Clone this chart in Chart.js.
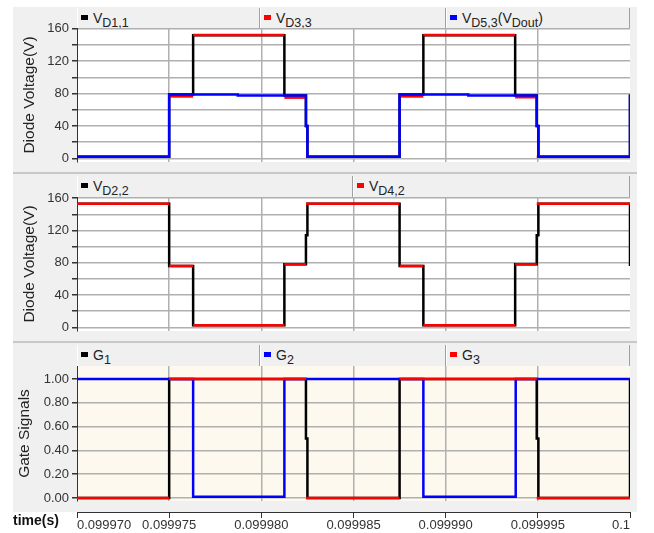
<!DOCTYPE html>
<html>
<head>
<meta charset="utf-8">
<script src="https://cdn.jsdelivr.net/npm/chart.js@4.4.0/dist/chart.umd.min.js"></script>
<style>
body{margin:0;background:#fff;overflow:hidden;width:654px;height:533px;position:relative;font-family:"Liberation Sans",Arial,sans-serif}
#bg{position:absolute;left:13px;top:7px;width:624px;height:505px;background:#f0f0f0}
.sep{position:absolute;left:13px;width:624px;height:2px;background:#c8c8c8}
canvas{position:absolute;left:13px}
.hdr{position:absolute;left:77px;width:553px;display:flex;background:#f0f0f0}
.cell{box-sizing:border-box;height:100%;border-right:1px solid #a0a0a0;border-left:1px solid #fff;font-size:14px;color:#222;padding-left:3px;white-space:nowrap;overflow:hidden}
.sq{display:inline-block;width:7px;height:5px;margin-right:5px;vertical-align:3px}
sub{font-size:12.5px;vertical-align:-4px;line-height:0}
#tl{position:absolute;left:13px;top:512px;font-weight:bold;font-size:14px;color:#111}
</style>
</head>
<body>
<div id="bg"></div>
<div class="sep" style="top:172px"></div>
<div class="sep" style="top:341px"></div>
<canvas id="c1" width="624" height="166" style="top:7px"></canvas>
<canvas id="c2" width="624" height="169" style="top:173px"></canvas>
<canvas id="c3" width="624" height="170" style="top:342px"></canvas>
<canvas id="ax" width="624" height="43" style="top:490px"></canvas>

<div class="hdr" style="top:8px;height:20px;line-height:20px">
  <div class="cell" style="width:183px"><span class="sq" style="background:#000"></span>V<sub>D1,1</sub></div>
  <div class="cell" style="width:186px"><span class="sq" style="background:#f00"></span>V<sub>D3,3</sub></div>
  <div class="cell" style="width:184px"><span class="sq" style="background:#00f"></span>V<sub>D5,3</sub>(V<sub>Dout</sub>)</div>
</div>
<div class="hdr" style="top:176px;height:21px;line-height:21px">
  <div class="cell" style="width:276px"><span class="sq" style="background:#000"></span>V<sub>D2,2</sub></div>
  <div class="cell" style="width:277px"><span class="sq" style="background:#f00"></span>V<sub>D4,2</sub></div>
</div>
<div class="hdr" style="top:345px;height:21px;line-height:21px">
  <div class="cell" style="width:183px"><span class="sq" style="background:#000"></span>G<sub>1</sub></div>
  <div class="cell" style="width:186px"><span class="sq" style="background:#00f"></span>G<sub>2</sub></div>
  <div class="cell" style="width:184px"><span class="sq" style="background:#f00"></span>G<sub>3</sub></div>
</div>
<div id="tl">time(s)</div>

<script>
// time window (s) and x tick labels
const tMin = 0.09997, tMax = 0.1;
const xTickVals = [0.09997, 0.099975, 0.09998, 0.099985, 0.09999, 0.099995, 0.1];
const xTickLabels = ['0.099970', '0.099975', '0.099980', '0.099985', '0.099990', '0.099995', '0.1'];

const vTickVals = [0, 20, 40, 60, 80, 100, 120, 140, 160];
const vTickLabels = ['0', '', '40', '', '80', '', '120', '', '160'];
const gTickVals = [0, 0.2, 0.4, 0.6, 0.8, 1];
const gTickLabels = ['0.00', '0.20', '0.40', '0.60', '0.80', '1.00'];

// each series: switching instants (s) and the level that starts at that instant
// panel 1
const vd11T = [0.09997, 0.099975, 0.0999763, 0.09998125, 0.09998242, 0.0999825, 0.0999875, 0.09998879, 0.09999377, 0.09999494, 0.09999503, 0.1];
const vd11V = [2, 79, 152, 77.5, 40, 2, 79, 152, 77.5, 40, 2, 79];
const vd33T = [0.09997, 0.099975, 0.0999763, 0.09998125, 0.09998242, 0.0999875, 0.09998879, 0.09999377, 0.09999494];
const vd33V = [2, 76.5, 152.5, 75, 2, 76.5, 152.5, 75.5, 2];
const vd53T = [0.09997, 0.099975, 0.09997872, 0.09998242, 0.0999825, 0.0999875, 0.09999123, 0.09999494, 0.09999503, 0.1];
const vd53V = [2, 79, 77.5, 40, 2, 79, 77.5, 40, 2, 79];
// panel 2
const vd22T = [0.09997, 0.099975, 0.0999763, 0.09998125, 0.09998242, 0.0999825, 0.0999875, 0.09998879, 0.09999377, 0.09999494, 0.09999503, 0.1];
const vd22V = [153, 76, 2.5, 78, 114, 153, 76, 2.5, 78, 114, 153, 76];
const vd42T = [0.09997, 0.099975, 0.0999763, 0.09998125, 0.09998242, 0.0999875, 0.09998879, 0.09999377, 0.09999494, 0.1];
const vd42V = [153, 76, 2.5, 78, 153, 76, 2.5, 78, 153, 76];
// panel 3
const g1T = [0.09997, 0.099975, 0.09998242, 0.0999825, 0.0999875, 0.09999494, 0.09999503, 0.1];
const g1V = [0, 1, 0.5, 0, 1, 0.5, 0, 1];
const g2T = [0.09997, 0.0999763, 0.09998125, 0.09998879, 0.0999938];
const g2V = [1, 0.01, 1, 0.01, 1];
const g3T = [0.09997, 0.099975, 0.09998242, 0.0999875, 0.09999494, 0.1];
const g3V = [0, 1, 0, 1, 0, 1];

const fam = '"Liberation Sans", Arial, sans-serif';

function steps(ts, vs) {
  const pts = [{x: ts[0], y: vs[0]}];
  for (let i = 1; i < ts.length; i++) {
    pts.push({x: ts[i], y: vs[i - 1]});
    pts.push({x: ts[i], y: vs[i]});
  }
  if (ts[ts.length - 1] < tMax) pts.push({x: tMax, y: vs[vs.length - 1]});
  return pts;
}

function ds(label, ts, vs, color, order, hideVert) {
  const d = {label: label, data: steps(ts, vs), borderColor: color, borderWidth: 2.5,
    pointRadius: 0, order: order, borderCapStyle: 'butt'};
  if (hideVert) {
    d.segment = {borderColor: c => c.p0.parsed.x === c.p1.parsed.x ? 'rgba(0,0,0,0)' : color};
  }
  return d;
}

const plotBg = {
  id: 'plotBg',
  beforeDraw(chart, args, opts) {
    const a = chart.chartArea, c = chart.ctx;
    c.save();
    c.fillStyle = opts.color;
    c.fillRect(a.left, a.top, a.right - a.left, a.bottom - a.top);
    c.restore();
  }
};

function panel(id, datasets, yMin, yMax, yVals, yLabels, title, titlePad, pad, bg) {
  return new Chart(document.getElementById(id), {
    type: 'line',
    data: {datasets: datasets},
    plugins: [plotBg],
    options: {
      responsive: false, animation: false, devicePixelRatio: 1,
      layout: {padding: {left: 0, right: 7, top: pad[0], bottom: pad[1]}},
      plugins: {legend: {display: false}, tooltip: {enabled: false}, plotBg: {color: bg}},
      scales: {
        x: {
          type: 'linear', min: tMin, max: tMax,
          afterBuildTicks: s => { s.ticks = xTickVals.slice(1, -1).map(v => ({value: v})); },
          ticks: {display: false},
          grid: {color: '#b0b0b0', lineWidth: 1.5, drawTicks: false},
          border: {display: false}
        },
        y: {
          min: yMin, max: yMax,
          afterBuildTicks: s => { s.ticks = yVals.map(v => ({value: v})); },
          afterFit: s => { s.width = 64; },
          ticks: {callback: (v, i) => yLabels[i], color: '#333', font: {size: 13, family: fam}, padding: 3, autoSkip: false},
          grid: {color: '#b0b0b0', lineWidth: 1.5, tickColor: '#333', tickLength: 5},
          border: {display: true, color: '#333', width: 1},
          title: {display: true, text: title, color: '#222', font: {size: 15.5, family: fam}, padding: {top: titlePad, bottom: 0}}
        }
      }
    }
  });
}

panel('c1', [
  ds('VD5,3(VDout)', vd53T, vd53V, '#0000ff', 0, false),
  ds('VD3,3', vd33T, vd33V, '#ff0000', 1, true),
  ds('VD1,1', vd11T, vd11V, '#000000', 2, false)
], -4.5, 161, vTickVals, vTickLabels, 'Diode Voltage(V)', 7, [21, 11], '#ffffff');

panel('c2', [
  ds('VD4,2', vd42T, vd42V, '#ff0000', 0, true),
  ds('VD2,2', vd22T, vd22V, '#000000', 1, false)
], -4.6, 161.5, vTickVals, vTickLabels, 'Diode Voltage(V)', 7, [24, 11], '#ffffff');

panel('c3', [
  ds('G3', g3T, g3V, '#ff0000', 0, true),
  ds('G2', g2T, g2V, '#0000ff', 1, false),
  ds('G1', g1T, g1V, '#000000', 2, false)
], -0.025, 1.11, gTickVals, gTickLabels, 'Gate Signals', 2, [24, 11], '#fdf9ee');

// shared time axis
new Chart(document.getElementById('ax'), {
  type: 'line',
  data: {datasets: []},
  options: {
    responsive: false, animation: false, devicePixelRatio: 1,
    layout: {padding: {left: 64, right: 7, top: 0, bottom: 0}},
    plugins: {legend: {display: false}, tooltip: {enabled: false}},
    scales: {
      x: {
        type: 'linear', position: 'bottom', min: tMin, max: tMax,
        afterBuildTicks: s => { s.ticks = xTickVals.map(v => ({value: v})); },
        afterFit: s => { s.height = 21; },
        ticks: {callback: (v, i) => xTickLabels[i], align: 'inner', maxRotation: 0, autoSkip: false,
          color: '#333', font: {size: 13, family: fam}, padding: 0},
        grid: {drawOnChartArea: false, tickLength: 6, tickColor: '#333'},
        border: {display: true, color: '#333', width: 1}
      },
      y: {display: false}
    }
  }
});
</script>
</body>
</html>
